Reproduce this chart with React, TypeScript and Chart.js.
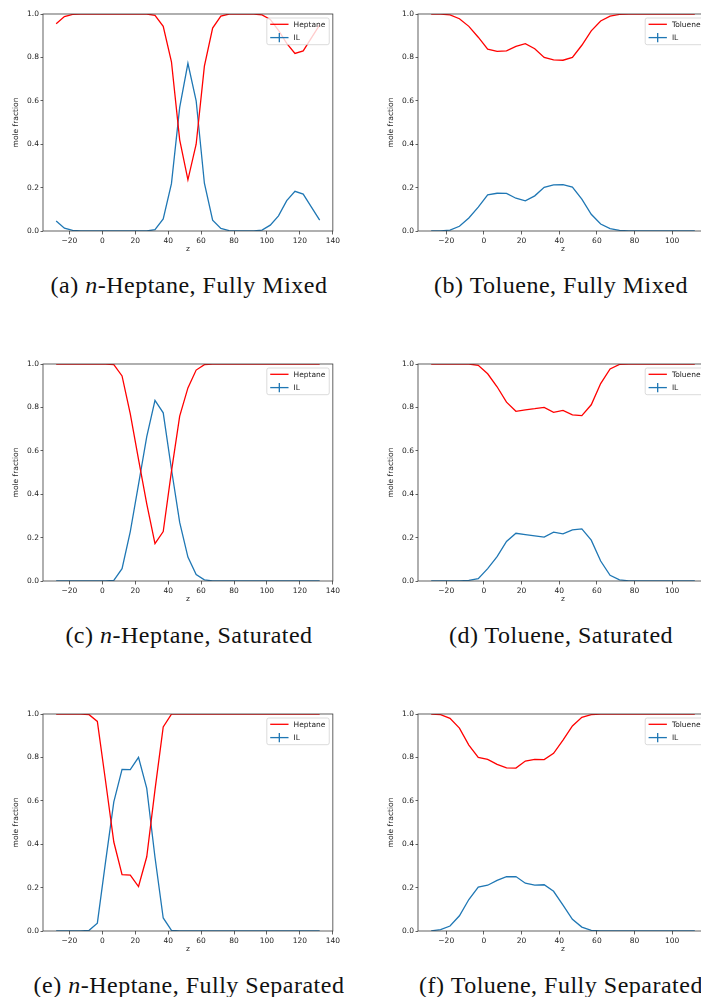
import React, { useEffect, useRef } from 'react';
import { Chart, registerables } from 'chart.js';

Chart.register(...registerables);

// ---------- data ----------
const zHeptane = [-28, -23, -18, -13, -8, -3, 2, 7, 12, 17, 22, 27, 32, 37, 42, 47, 52, 57, 62, 67, 72, 77, 82, 87, 92, 97, 102, 107, 112, 117, 122, 127, 132];
const zToluene = [-28, -23, -18, -13, -8, -3, 2, 7, 12, 17, 22, 27, 32, 37, 42, 47, 52, 57, 62, 67, 72, 77, 82, 87, 92, 97, 102, 107, 112];

const heptaneTicks = [-20, 0, 20, 40, 60, 80, 100, 120, 140];
const tolueneTicks = [-20, 0, 20, 40, 60, 80, 100];
const yTicks = [0, 0.2, 0.4, 0.6, 0.8, 1.0];

// (a) n-Heptane, Fully Mixed
const heptaneMixed = [0.955, 0.988, 0.998, 1, 1, 1, 1, 1, 1, 1, 1, 1, 0.994, 0.943, 0.78, 0.42, 0.236, 0.40, 0.76, 0.935, 0.99, 1, 1, 1, 1, 0.996, 0.975, 0.925, 0.865, 0.818, 0.83, 0.89, 0.95];
const ilHeptaneMixed = [0.046, 0.013, 0.003, 0.001, 0, 0, 0, 0, 0, 0, 0, 0, 0.006, 0.056, 0.218, 0.57, 0.773, 0.60, 0.22, 0.05, 0.012, 0.002, 0, 0, 0, 0.004, 0.027, 0.07, 0.14, 0.183, 0.17, 0.11, 0.05];

// (b) Toluene, Fully Mixed
const tolueneMixed = [1, 0.999, 0.996, 0.978, 0.943, 0.893, 0.838, 0.828, 0.83, 0.851, 0.863, 0.84, 0.80, 0.789, 0.787, 0.80, 0.856, 0.922, 0.968, 0.99, 0.998, 1, 1, 1, 1, 1, 1, 1, 1];
const ilTolueneMixed = [0, 0.001, 0.004, 0.022, 0.06, 0.11, 0.167, 0.174, 0.173, 0.151, 0.139, 0.162, 0.201, 0.213, 0.214, 0.202, 0.147, 0.077, 0.032, 0.011, 0.003, 0.001, 0, 0, 0, 0, 0, 0, 0];

// (c) n-Heptane, Saturated
const heptaneSaturated = [1, 1, 1, 1, 1, 1, 1, 0.997, 0.945, 0.77, 0.56, 0.355, 0.172, 0.228, 0.505, 0.76, 0.89, 0.972, 0.997, 1, 1, 1, 1, 1, 1, 1, 1, 1, 1, 1, 1, 1, 1];
const ilHeptaneSaturated = [0, 0, 0, 0, 0, 0, 0, 0.003, 0.057, 0.228, 0.445, 0.665, 0.832, 0.775, 0.515, 0.27, 0.11, 0.03, 0.005, 0.001, 0, 0, 0, 0, 0, 0, 0, 0, 0, 0, 0, 0, 0];

// (d) Toluene, Saturated
const tolueneSaturated = [1, 1, 1, 1, 1, 0.994, 0.955, 0.895, 0.824, 0.782, 0.789, 0.794, 0.80, 0.777, 0.786, 0.766, 0.762, 0.812, 0.91, 0.977, 0.998, 1, 1, 1, 1, 1, 1, 1, 1];
const ilTolueneSaturated = [0, 0, 0, 0, 0.003, 0.011, 0.057, 0.112, 0.182, 0.22, 0.214, 0.208, 0.202, 0.225, 0.217, 0.236, 0.24, 0.188, 0.092, 0.026, 0.005, 0.001, 0, 0, 0, 0, 0, 0, 0];

// (e) n-Heptane, Fully Separated
const heptaneSeparated = [1, 1, 1, 1, 0.997, 0.966, 0.69, 0.41, 0.26, 0.258, 0.205, 0.342, 0.65, 0.94, 0.999, 1, 1, 1, 1, 1, 1, 1, 1, 1, 1, 1, 1, 1, 1, 1, 1, 1, 1];
const ilHeptaneSeparated = [0, 0, 0, 0, 0.003, 0.036, 0.32, 0.595, 0.745, 0.744, 0.80, 0.657, 0.34, 0.06, 0.003, 0, 0, 0, 0, 0, 0, 0, 0, 0, 0, 0, 0, 0, 0, 0, 0, 0, 0];

// (f) Toluene, Fully Separated
const tolueneSeparated = [1, 0.997, 0.98, 0.935, 0.857, 0.80, 0.791, 0.768, 0.752, 0.751, 0.783, 0.791, 0.79, 0.819, 0.88, 0.945, 0.985, 0.997, 1, 1, 1, 1, 1, 1, 1, 1, 1, 1, 1];
const ilTolueneSeparated = [0.001, 0.006, 0.023, 0.07, 0.145, 0.202, 0.211, 0.233, 0.25, 0.251, 0.22, 0.211, 0.213, 0.183, 0.119, 0.054, 0.018, 0.003, 0.001, 0, 0, 0, 0, 0, 0, 0, 0, 0, 0];

// ---------- styling ----------
const RED = '#ff0000';
const BLUE = '#1f77b4';
const TICK_FONT = { family: '"DejaVu Sans", sans-serif', size: 7.5 };
const PAD_L = 43, PAD_T = 6, PAD_R = 8, PAD_B = 28;

const spinesPlugin = {
  id: 'spines',
  afterDatasetsDraw(chart: any) {
    const { ctx, chartArea: a } = chart;
    ctx.save();
    ctx.strokeStyle = '#3a3a3a';
    ctx.lineWidth = 0.8;
    ctx.strokeRect(a.left, a.top, a.right - a.left, a.bottom - a.top);
    ctx.restore();
  },
};

const legendPlugin = {
  id: 'mplLegend',
  afterDraw(chart: any) {
    const { ctx, chartArea: a } = chart;
    const ds = chart.data.datasets;
    ctx.save();
    ctx.font = '7.5px "DejaVu Sans", sans-serif';
    const textW = Math.max(...ds.map((d: any) => ctx.measureText(d.label).width));
    const w = 26.7 + textW + 3.8;
    const h = 26.7;
    const x = a.right - 3.6 - w;
    const y = a.top + 4;
    const r = 2;
    ctx.beginPath();
    ctx.moveTo(x + r, y);
    ctx.lineTo(x + w - r, y);
    ctx.arcTo(x + w, y, x + w, y + r, r);
    ctx.lineTo(x + w, y + h - r);
    ctx.arcTo(x + w, y + h, x + w - r, y + h, r);
    ctx.lineTo(x + r, y + h);
    ctx.arcTo(x, y + h, x, y + h - r, r);
    ctx.lineTo(x, y + r);
    ctx.arcTo(x, y, x + r, y, r);
    ctx.closePath();
    ctx.fillStyle = 'rgba(255,255,255,0.8)';
    ctx.fill();
    ctx.strokeStyle = 'rgba(200,200,200,0.9)';
    ctx.lineWidth = 0.7;
    ctx.stroke();
    ds.forEach((d: any, i: number) => {
      const ry = y + 6.3 + i * 13.3;
      ctx.strokeStyle = d.borderColor;
      ctx.lineWidth = 1.3;
      ctx.beginPath();
      ctx.moveTo(x + 3.4, ry);
      ctx.lineTo(x + 21.7, ry);
      ctx.stroke();
      if (i === 1) {
        ctx.beginPath();
        ctx.moveTo(x + 12.5, ry - 4.6);
        ctx.lineTo(x + 12.5, ry + 4.6);
        ctx.stroke();
      }
      ctx.fillStyle = '#222';
      ctx.textBaseline = 'middle';
      ctx.textAlign = 'left';
      ctx.fillText(d.label, x + 26.7, ry + 0.5);
    });
    ctx.restore();
  },
};

const fmtX = (v: number) => (v < 0 ? '\u2212' + Math.abs(v) : String(v));

type PanelProps = {
  left: number;
  top: number;
  axW: number;
  axH: number;
  z: number[];
  solvent: number[];
  il: number[];
  solventLabel: string;
  xMin: number;
  xMax: number;
  xTicks: number[];
};

function Panel({ left, top, axW, axH, z, solvent, il, solventLabel, xMin, xMax, xTicks }: PanelProps) {
  const ref = useRef<HTMLCanvasElement>(null);
  const cw = PAD_L + axW + PAD_R;
  const ch = PAD_T + axH + PAD_B;
  useEffect(() => {
    const chart = new Chart(ref.current as HTMLCanvasElement, {
      type: 'line',
      data: {
        datasets: [
          {
            label: solventLabel,
            data: z.map((x, i) => ({ x, y: solvent[i] })),
            borderColor: RED,
            backgroundColor: RED,
            borderWidth: 1.3,
            pointRadius: 0,
            tension: 0,
            fill: false,
          },
          {
            label: 'IL',
            data: z.map((x, i) => ({ x, y: il[i] })),
            borderColor: BLUE,
            backgroundColor: BLUE,
            borderWidth: 1.3,
            pointRadius: 0,
            tension: 0,
            fill: false,
          },
        ],
      },
      options: {
        animation: false,
        responsive: false,
        maintainAspectRatio: false,
        events: [],
        layout: { padding: { left: 0, top: PAD_T, right: PAD_R, bottom: 0 } },
        plugins: { legend: { display: false }, tooltip: { enabled: false } },
        scales: {
          x: {
            type: 'linear',
            min: xMin,
            max: xMax,
            afterBuildTicks: (s: any) => {
              s.ticks = xTicks.map((v) => ({ value: v }));
            },
            afterFit: (s: any) => {
              s.height = PAD_B;
            },
            border: { display: false },
            grid: { drawOnChartArea: false, drawTicks: true, tickLength: 3.5, color: '#3a3a3a', lineWidth: 0.8 },
            ticks: {
              color: '#222',
              font: TICK_FONT,
              padding: 2,
              maxRotation: 0,
              autoSkip: false,
              callback: (v: any) => fmtX(Number(v)),
            },
            title: {
              display: true,
              text: 'z',
              color: '#222',
              font: TICK_FONT,
              padding: { top: 0, bottom: 5 },
            },
          },
          y: {
            type: 'linear',
            min: 0,
            max: 1,
            afterBuildTicks: (s: any) => {
              s.ticks = yTicks.map((v) => ({ value: v }));
            },
            afterFit: (s: any) => {
              s.width = PAD_L;
            },
            border: { display: false },
            grid: { drawOnChartArea: false, drawTicks: true, tickLength: 2.5, color: '#3a3a3a', lineWidth: 0.8 },
            ticks: {
              color: '#222',
              font: TICK_FONT,
              padding: 1.5,
              callback: (v: any) => Number(v).toFixed(1),
            },
            title: {
              display: true,
              text: 'mole fraction',
              color: '#222',
              font: TICK_FONT,
              padding: { top: 11.5, bottom: 0 },
            },
          },
        },
      },
      plugins: [spinesPlugin, legendPlugin],
    } as any);
    return () => chart.destroy();
  }, []);
  return (
    <canvas
      ref={ref}
      width={cw}
      height={ch}
      style={{ position: 'absolute', left: left - PAD_L, top: top - PAD_T, width: cw, height: ch }}
    />
  );
}

function Caption({ cx, cy, label, italic, rest }: { cx: number; cy: number; label: string; italic?: string; rest: string }) {
  return (
    <div
      style={{
        position: 'absolute',
        left: cx - 250,
        width: 500,
        top: cy - 15,
        height: 30,
        lineHeight: '30px',
        textAlign: 'center',
        fontFamily: '"Liberation Serif", "Times New Roman", serif',
        fontSize: 24,
        letterSpacing: '0.5px',
        color: '#111',
        whiteSpace: 'nowrap',
      }}
    >
      {label} {italic ? <i>{italic}</i> : null}
      {rest}
    </div>
  );
}

const HEP_LEFT = 43;
const TOL_LEFT = 418;
const AX_W_HEP = 291;
const AX_W_TOL = 290;
const AX_H = 217;
const ROW_TOPS = [14, 364, 714];

export default function App() {
  return (
    <div style={{ position: 'absolute', left: 0, top: 0, width: 701, height: 997, overflow: 'hidden', background: '#fff' }}>
      <Panel left={HEP_LEFT} top={ROW_TOPS[0]} axW={AX_W_HEP} axH={AX_H} z={zHeptane} solvent={heptaneMixed} il={ilHeptaneMixed} solventLabel="Heptane" xMin={-36} xMax={140} xTicks={heptaneTicks} />
      <Panel left={TOL_LEFT} top={ROW_TOPS[0]} axW={AX_W_TOL} axH={AX_H} z={zToluene} solvent={tolueneMixed} il={ilTolueneMixed} solventLabel="Toluene" xMin={-35} xMax={119} xTicks={tolueneTicks} />
      <Panel left={HEP_LEFT} top={ROW_TOPS[1]} axW={AX_W_HEP} axH={AX_H} z={zHeptane} solvent={heptaneSaturated} il={ilHeptaneSaturated} solventLabel="Heptane" xMin={-36} xMax={140} xTicks={heptaneTicks} />
      <Panel left={TOL_LEFT} top={ROW_TOPS[1]} axW={AX_W_TOL} axH={AX_H} z={zToluene} solvent={tolueneSaturated} il={ilTolueneSaturated} solventLabel="Toluene" xMin={-35} xMax={119} xTicks={tolueneTicks} />
      <Panel left={HEP_LEFT} top={ROW_TOPS[2]} axW={AX_W_HEP} axH={AX_H} z={zHeptane} solvent={heptaneSeparated} il={ilHeptaneSeparated} solventLabel="Heptane" xMin={-36} xMax={140} xTicks={heptaneTicks} />
      <Panel left={TOL_LEFT} top={ROW_TOPS[2]} axW={AX_W_TOL} axH={AX_H} z={zToluene} solvent={tolueneSeparated} il={ilTolueneSeparated} solventLabel="Toluene" xMin={-35} xMax={119} xTicks={tolueneTicks} />

      <Caption cx={189} cy={285} label="(a)" italic="n" rest="-Heptane, Fully Mixed" />
      <Caption cx={561} cy={285} label="(b)" rest="Toluene, Fully Mixed" />
      <Caption cx={189} cy={635} label="(c)" italic="n" rest="-Heptane, Saturated" />
      <Caption cx={561} cy={635} label="(d)" rest="Toluene, Saturated" />
      <Caption cx={189} cy={985} label="(e)" italic="n" rest="-Heptane, Fully Separated" />
      <Caption cx={561} cy={985} label="(f)" rest="Toluene, Fully Separated" />
    </div>
  );
}
